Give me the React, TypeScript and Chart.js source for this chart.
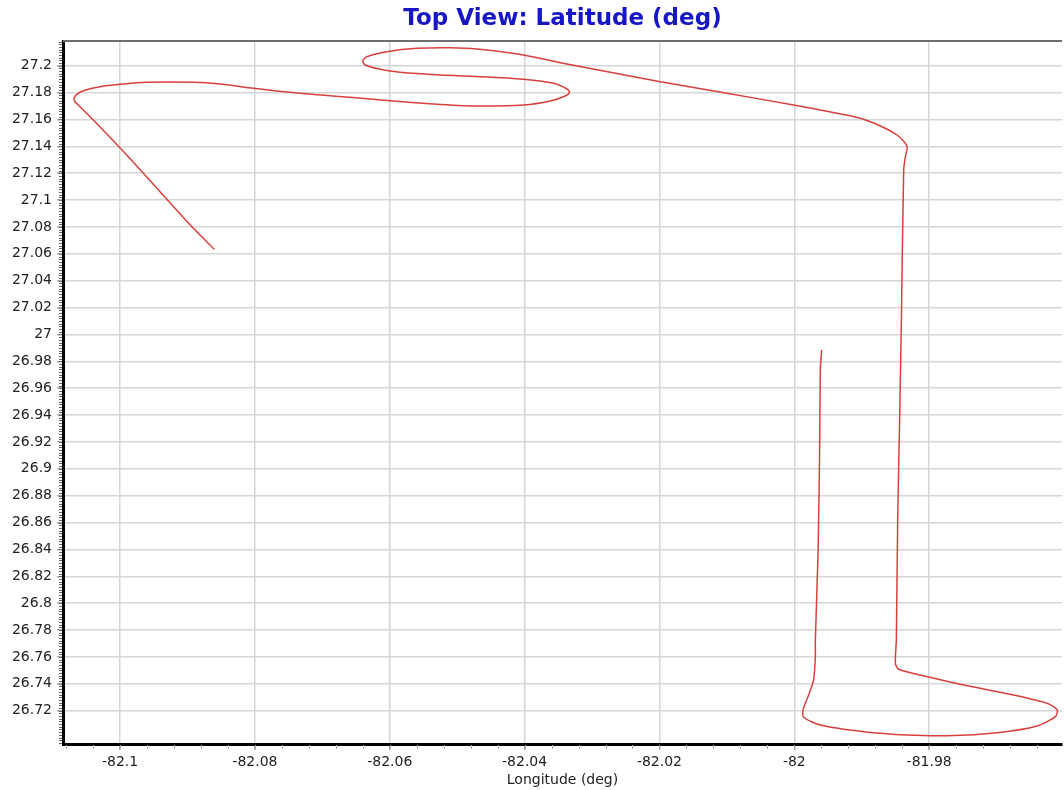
import React, { useEffect, useRef } from "react";
import { Chart, registerables } from "chart.js";

Chart.register(...registerables);

const chartTitle = "Top View: Latitude (deg)";
const xAxisTitle = "Longitude (deg)";

const longitude: number[] = [
  -82.08601, -82.08912, -82.09407, -82.09901, -82.10396, -82.10593, -82.10668, -82.10682,
  -82.10642, -82.10545, -82.10297, -82.1, -82.09604, -82.08912, -82.08516, -82.08022,
  -82.07329, -82.06588, -82.05994, -82.05352, -82.04758, -82.04016, -82.0362, -82.03398,
  -82.03334, -82.03372, -82.03571, -82.04016, -82.0461, -82.05252, -82.05846, -82.06142,
  -82.06365, -82.06399, -82.0634, -82.06043, -82.05598, -82.05104, -82.04708, -82.04016,
  -82.03472, -82.0273, -82.01988, -82.00999, -82.0001, -81.99367, -81.99021, -81.98724,
  -81.98476, -81.98328, -81.98353, -81.98378, -81.98412, -81.98438, -81.98467, -81.98487,
  -81.98501, -81.98452, -81.98131, -81.97488, -81.96746, -81.96251, -81.96102, -81.96128,
  -81.96399, -81.96993, -81.97734, -81.98328, -81.98972, -81.99614, -81.99862, -81.99871,
  -81.99788, -81.99714, -81.99688, -81.99688, -81.99648, -81.99625, -81.99614, -81.99595,
];

const latitude: number[] = [
  27.06337, 27.079, 27.10623, 27.13354, 27.15959, 27.16949, 27.17321, 27.17574,
  27.17872, 27.1814, 27.18437, 27.18616, 27.18765, 27.18765, 27.18638, 27.18318,
  27.17946, 27.17648, 27.17395, 27.1715, 27.17001, 27.17075, 27.17373, 27.17745,
  27.18021, 27.18266, 27.1869, 27.18988, 27.19181, 27.19308, 27.19509, 27.19732,
  27.20052, 27.20372, 27.2067, 27.21042, 27.21295, 27.2134, 27.21243, 27.20796,
  27.20223, 27.19509, 27.18809, 27.17946, 27.17075, 27.16458, 27.16086, 27.15513,
  27.14843, 27.14024, 27.13228, 27.12238, 27.01075, 26.93634, 26.86192, 26.77261,
  26.75527, 26.75081, 26.74657, 26.73913, 26.73168, 26.72551, 26.72052, 26.71554,
  26.70861, 26.70363, 26.7014, 26.70192, 26.70437, 26.70936, 26.71509, 26.72052,
  26.73168, 26.74285, 26.76019, 26.77261, 26.83736, 26.91178, 26.97354, 26.98843,
];

const xMin = -82.10846;
const xMax = -81.9603;
const yMin = 26.6952;
const yMax = 27.2184;
const yLowestLabel = 26.72;
const xStep = 0.02;
const yStep = 0.02;
const xMinorStep = 0.004;
const yMinorStep = 0.002;

const fmt = (v: number) => String(Number(Number(v).toFixed(3)));

const extrasPlugin = {
  id: "extras",
  afterDraw(chart: any) {
    const { ctx, chartArea } = chart;
    const xs = chart.scales.x;
    const ys = chart.scales.y;
    ctx.save();
    // top border
    ctx.strokeStyle = "#6e6e6e";
    ctx.lineWidth = 2;
    ctx.beginPath();
    ctx.moveTo(chartArea.left, chartArea.top);
    ctx.lineTo(chartArea.right, chartArea.top);
    ctx.stroke();
    // minor ticks x
    ctx.strokeStyle = "#a8a8a8";
    ctx.lineWidth = 1;
    const x0 = Math.ceil(xMin / xMinorStep);
    const x1 = Math.floor(xMax / xMinorStep);
    ctx.beginPath();
    for (let i = x0; i <= x1; i++) {
      const px = Math.round(xs.getPixelForValue(i * xMinorStep)) + 0.5;
      ctx.moveTo(px, chartArea.bottom + 1);
      ctx.lineTo(px, chartArea.bottom + 5);
    }
    ctx.stroke();
    // minor ticks y
    ctx.strokeStyle = "#666666";
    const y0 = Math.ceil(yMin / yMinorStep);
    const y1 = Math.floor(yMax / yMinorStep);
    ctx.beginPath();
    for (let i = y0; i <= y1; i++) {
      const py = Math.round(ys.getPixelForValue(i * yMinorStep)) + 0.5;
      ctx.moveTo(chartArea.left - 4, py);
      ctx.lineTo(chartArea.left - 1, py);
    }
    ctx.stroke();
    ctx.restore();
  },
};

export default function App() {
  const canvasRef = useRef<HTMLCanvasElement | null>(null);

  useEffect(() => {
    if (!canvasRef.current) return;
    const points = longitude.map((x, i) => ({ x, y: latitude[i] }));
    const tickFont = { family: "'DejaVu Sans', Verdana, sans-serif", size: 14 };
    const chart = new Chart(canvasRef.current, {
      type: "scatter",
      data: {
        datasets: [
          {
            label: "Latitude",
            data: points,
            showLine: true,
            borderColor: "#d9403c",
            borderWidth: 1.5,
            pointRadius: 0,
            tension: 0.25,
            fill: false,
          },
        ],
      },
      options: {
        animation: false,
        responsive: false,
        maintainAspectRatio: false,
        layout: { padding: { left: 0, right: 2, top: 0, bottom: 0 } },
        plugins: {
          legend: { display: false },
          tooltip: { enabled: false },
          title: {
            display: true,
            text: chartTitle,
            fullSize: false,
            color: "#1616c4",
            font: { family: "'DejaVu Sans', Verdana, sans-serif", size: 23, weight: "bold" },
            padding: { top: 5, bottom: 8.4 },
          },
        },
        scales: {
          x: {
            type: "linear",
            min: xMin,
            max: xMax,
            afterFit: (s: any) => {
              s.height = 46;
            },
            border: { display: true, color: "#000000", width: 3 },
            grid: {
              color: "#d6d6d6",
              lineWidth: 1.5,
              drawTicks: true,
              tickLength: 6,
              tickColor: "#a8a8a8",
            },
            ticks: {
              stepSize: xStep,
              includeBounds: false,
              autoSkip: false,
              maxRotation: 0,
              padding: 4,
              color: "#222222",
              font: tickFont,
              callback: (v: any) => fmt(v),
            },
            title: {
              display: true,
              text: xAxisTitle,
              color: "#222222",
              font: tickFont,
              padding: { top: 0, bottom: 1 },
            },
          },
          y: {
            type: "linear",
            min: yMin,
            max: yMax,
            afterFit: (s: any) => {
              s.width = 63;
            },
            afterBuildTicks: (s: any) => {
              s.ticks = s.ticks.filter((t: any) => t.value >= yLowestLabel - 1e-6);
            },
            border: { display: true, color: "#000000", width: 3 },
            grid: {
              color: "#d6d6d6",
              lineWidth: 1.5,
              drawTicks: true,
              tickLength: 6,
              tickColor: "#a8a8a8",
            },
            ticks: {
              stepSize: yStep,
              includeBounds: false,
              autoSkip: false,
              padding: 5,
              color: "#222222",
              font: tickFont,
              callback: (v: any) => fmt(v),
            },
          },
        },
      },
      plugins: [extrasPlugin],
    });
    return () => chart.destroy();
  }, []);

  return (
    <div style={{ position: "absolute", left: 0, top: 0, width: 1064, height: 790, background: "#ffffff" }}>
      <canvas ref={canvasRef} width={1064} height={790} style={{ display: "block", width: 1064, height: 790 }} />
    </div>
  );
}
